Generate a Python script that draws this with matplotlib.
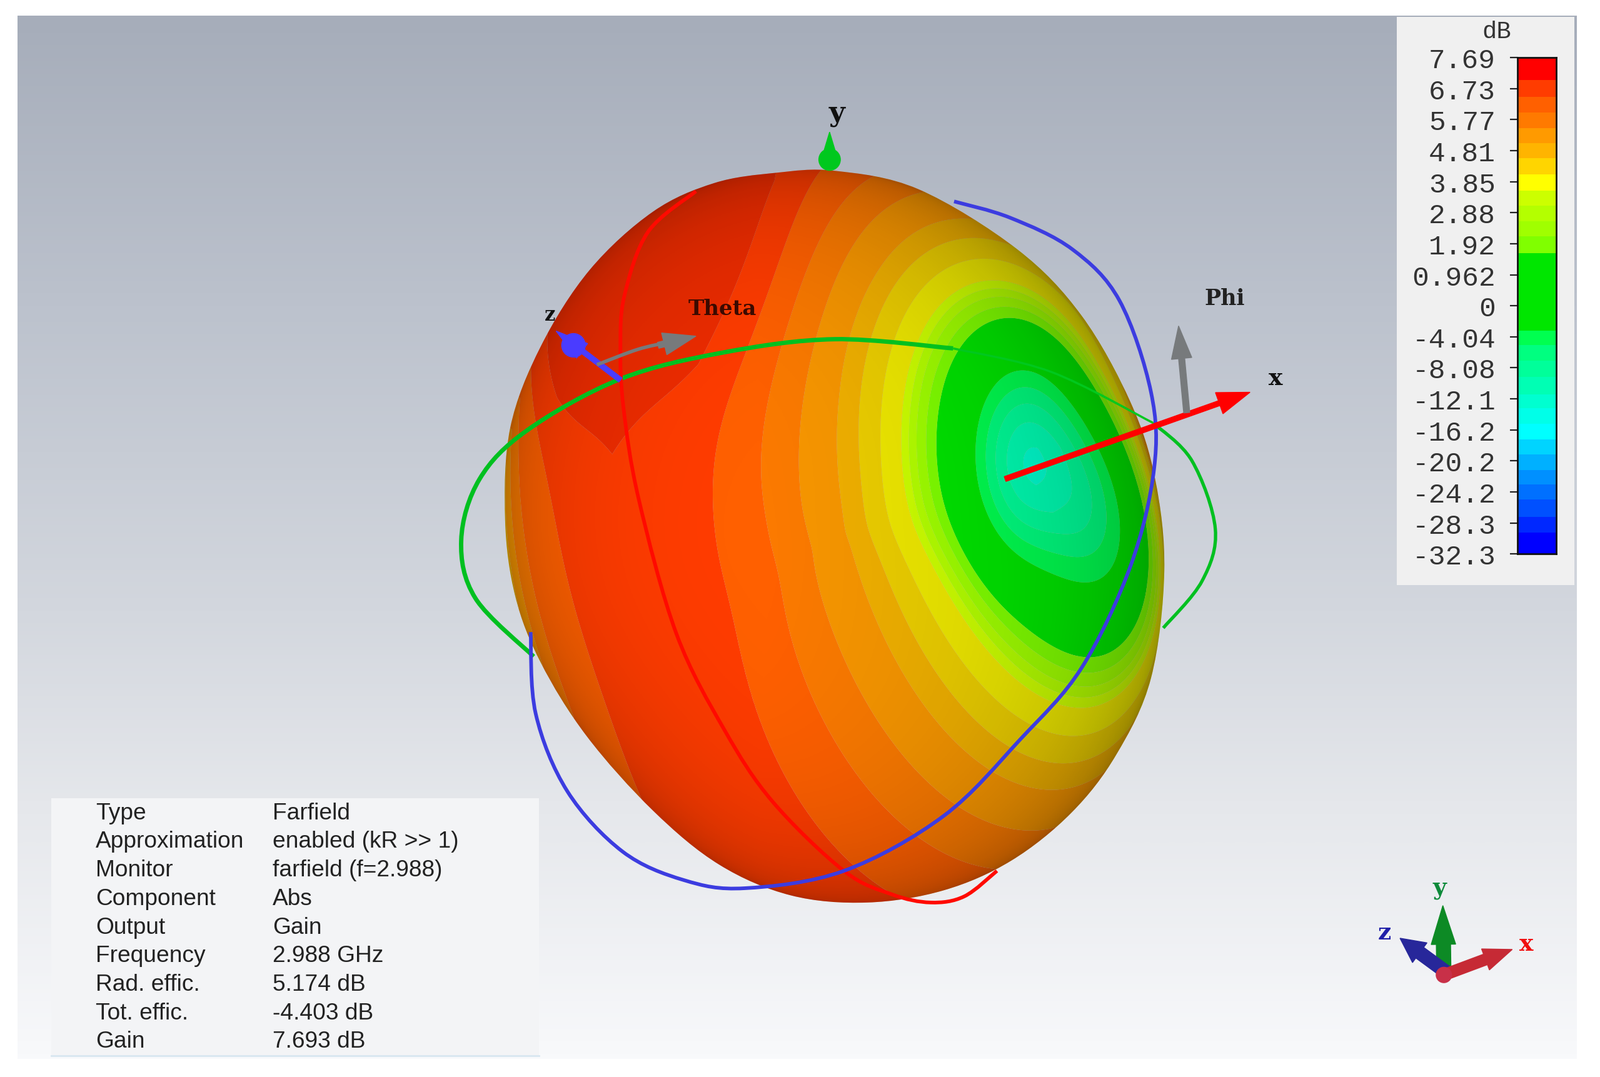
import numpy as np
import matplotlib
matplotlib.use("Agg")
import matplotlib.pyplot as plt
from matplotlib.path import Path
from matplotlib.patches import PathPatch, Polygon, Rectangle, Circle
from matplotlib.colors import ListedColormap, BoundaryNorm, LinearSegmentedColormap

# ---- colour scale -------------------------------------------------------
tick_labels = ["7.69", "6.73", "5.77", "4.81", "3.85", "2.88", "1.92", "0.962", "0",
               "-4.04", "-8.08", "-12.1", "-16.2", "-20.2", "-24.2", "-28.3", "-32.3"]
tick_values = [7.69, 6.73, 5.77, 4.81, 3.85, 2.88, 1.92, 0.962, 0,
               -4.04, -8.08, -12.1, -16.2, -20.2, -24.2, -28.3, -32.3]
band_edges = [0, .73, 1.27, 1.78, 2.27, 2.75, 3.25, 3.76, 4.28, 4.77, 5.28, 5.76, 6.3, 8.8,
              9.27, 9.76, 10.3, 10.85, 11.3, 11.8, 12.3, 12.8, 13.3, 13.75, 14.25, 14.8, 15.3, 16]
band_colors = ["#ff0000", "#ff3c00", "#ff6000", "#ff7a00", "#ff9a00", "#ffb400", "#ffd500",
               "#ffff00", "#ccff00", "#b4ff00", "#a0ff00", "#80ff00", "#00e600", "#00ff50",
               "#00ff80", "#00ff9a", "#00ffb4", "#00ffd0", "#00ffe8", "#00ffff", "#00d4ff",
               "#00b0ff", "#0090ff", "#0070ff", "#0050ff", "#0028ff", "#0000ff"]
ball_colors = ["#ee2c00", "#ff3c00", "#ff6000", "#fb7a00", "#f79600", "#f0b000", "#ecce00",
               "#eee800"] + band_colors[8:]

# ---- gain pattern --------------------------------------------------------
angle_from_x = [0, 6, 10, 14, 25, 29, 32, 36, 40, 43, 50, 57, 67, 85, 100, 115, 125, 135, 180]
gain_at_angle = [-9, -7.5, -5.5, -3.5, 1.63, 2.6, 3.6, 4.1, 4.6, 5.0, 5.5, 5.98, 6.47, 6.8,
                 6.5, 5.95, 5.2, 4.4, 3.0]
lobes = [(650, 200, 85, 128, 1.2), (550, 320, 32, 70, 0.5)]
null_dip = [(1000, 455, 28, 55, -5.0)]

# ---- outlines in picture coordinates --------------------------------------
silhouette = [(818, 168), (900, 186), (997, 245), (1060, 310), (1108, 395), (1132, 470), (1141, 560),
              (1128, 665), (1094, 740), (1050, 797), (991, 844), (925, 873), (850, 885), (775, 878),
              (705, 848), (640, 795), (575, 722), (530, 650), (505, 585), (495, 510), (500, 420),
              (530, 340), (578, 265), (640, 208), (700, 180), (760, 170)]
green_ring_left = [(523, 644), (466, 587), (452, 530), (470, 470), (517, 422), (608, 372),
                   (709, 346), (818, 333), (934, 342)]
green_ring_inner = [(934, 342), (1030, 365), (1130, 415)]
green_ring_right = [(1130, 415), (1168, 452), (1191, 519), (1178, 570), (1140, 616)]
blue_ring = [(520, 620), (525, 700), (556, 776), (610, 835), (670, 863), (730, 871), (827, 854),
             (925, 800), (1000, 725), (1060, 655), (1108, 555), (1131, 460), (1128, 385),
             (1097, 295), (1051, 245), (990, 214), (935, 198)]
red_ring = [(682, 188), (635, 228), (612, 290), (608, 340), (611, 400), (626, 490), (663, 622),
            (710, 716), (757, 786), (827, 854), (874, 877), (912, 885), (945, 879), (977, 854)]
info_names = ["Type", "Approximation", "Monitor", "Component", "Output", "Frequency",
              "Rad. effic.", "Tot. effic.", "Gain"]
info_values = ["Farfield", "enabled (kR >> 1)", "farfield (f=2.988)", "Abs", "Gain",
               "2.988 GHz", "5.174 dB", "-4.403 dB", "7.693 dB"]
bg_rows = [16, 300, 600, 800, 1038]
bg_colors = ["#a6adba", "#bcc2cd", "#d3d7de", "#e6e8ec", "#f8f9fb"]

W, H = 1568, 1056
fig = plt.figure(figsize=(25.59, 17.24), dpi=100)
ax = fig.add_axes([0, 0, 1, 1])
ax.set_xlim(0, W)
ax.set_ylim(H, 0)
ax.axis("off")


def smooth(points, closed=False):
    p = np.asarray(points, float)
    n = len(p)
    verts = [p[0]]
    codes = [Path.MOVETO]
    for i in range(n if closed else n - 1):
        if closed:
            a, b, c, d = p[(i - 1) % n], p[i], p[(i + 1) % n], p[(i + 2) % n]
        else:
            a, b, c, d = p[max(i - 1, 0)], p[i], p[i + 1], p[min(i + 2, n - 1)]
        verts += [b + (c - a) / 6, c - (d - b) / 6, c]
        codes += [Path.CURVE4] * 3
    return Path(np.array(verts), codes)


def arrow(start, tip, shaft, head_len, head_w, color, z=7):
    s, t = np.array(start, float), np.array(tip, float)
    u = (t - s) / np.hypot(*(t - s))
    n = np.array([-u[1], u[0]])
    b = t - u * head_len
    pts = [s + n * shaft / 2, b + n * shaft / 2, b + n * head_w / 2, t,
           b - n * head_w / 2, b - n * shaft / 2, s - n * shaft / 2]
    ax.add_patch(Polygon(pts, closed=True, fc=color, ec=color, lw=1, zorder=z))


# background
grad = LinearSegmentedColormap.from_list(
    "bg", [((r - bg_rows[0]) / (bg_rows[-1] - bg_rows[0]), c) for r, c in zip(bg_rows, bg_colors)])
ax.imshow(np.linspace(0, 1, 512)[:, None], extent=(17, 1545, 1038, 16), cmap=grad,
          aspect="auto", zorder=0, interpolation="bilinear")
ax.set_xlim(0, W)
ax.set_ylim(H, 0)

# ball: a unit sphere fitted to the outline, so the gain rings bend round the edge
outline = smooth(silhouette, closed=True)
poly = outline.to_polygons(closed_only=False)[0]
cx, cy = 815.0, 525.0
phi_o = np.arctan2(poly[:, 1] - cy, poly[:, 0] - cx)
rad_o = np.hypot(poly[:, 0] - cx, poly[:, 1] - cy)
order = np.argsort(phi_o)
phi_u = np.linspace(-np.pi, np.pi, 720, endpoint=False)
rad_u = np.interp(phi_u, phi_o[order], rad_o[order], period=2 * np.pi)
spec = np.fft.rfft(rad_u)
spec[7:] = 0
rad_u = np.fft.irfft(spec, len(rad_u))
gx, gy = np.meshgrid(np.arange(480, 1160, 0.75), np.arange(150, 900, 0.75))
phi = np.arctan2(gy - cy, gx - cx)
rho = np.hypot(gx - cx, gy - cy) / np.interp(phi, phi_u, rad_u, period=2 * np.pi)
rho = np.clip(rho, 0, 1)
X, Y = rho * np.cos(phi), -rho * np.sin(phi)
Z = np.sqrt(np.clip(1 - X ** 2 - Y ** 2, 0, 1))
ax_x, ax_y = 0.70, 0.16
ax_z = np.sqrt(1 - ax_x ** 2 - ax_y ** 2)
alpha0 = np.degrees(np.arccos(np.clip(X * ax_x + Y * ax_y + Z * ax_z, -1, 1)))
# squeeze along the lobe so the rings around the null come out as tall as in the picture
Xw = X + 0.2 * (Y - ax_y) * np.exp(-(alpha0 / 40) ** 2)
Yw = ax_y + (Y - ax_y) * 0.85
Zw = np.sqrt(np.clip(1 - Xw ** 2 - Yw ** 2, 0, 1))
alpha = np.degrees(np.arccos(np.clip(Xw * ax_x + Yw * ax_y + Zw * ax_z, -1, 1)))
gain = np.interp(alpha, angle_from_x, gain_at_angle)
for (lx, ly, sx, sy, amp) in lobes + null_dip:
    gain += amp * np.exp(-0.5 * (((gx - lx) / sx) ** 2 + ((gy - ly) / sy) ** 2))
gain = np.minimum(gain, tick_values[0] - 0.01)

edge_gain = np.interp(band_edges, np.arange(len(tick_values)), tick_values)
levels = edge_gain[::-1]
cmap = ListedColormap(ball_colors[::-1])
norm = BoundaryNorm(levels, cmap.N)
clip = PathPatch(outline, transform=ax.transData, fc="none", ec="none")
ax.add_patch(clip)
cs = ax.contourf(gx, gy, gain, levels=levels, cmap=cmap, norm=norm, zorder=2, antialiased=True)
cs.set_clip_path(clip)
shade = np.zeros(gain.shape + (4,))
shade[..., 3] = 0.30 * (1 - Z) ** 1.5 + 0.10 * np.clip(X + 0.2, 0, 1)
im = ax.imshow(shade, extent=(gx.min(), gx.max(), gy.max(), gy.min()), zorder=3, aspect="auto",
               interpolation="bilinear")
im.set_clip_path(clip)
ax.set_xlim(0, W)
ax.set_ylim(H, 0)

# rings
ax.add_patch(PathPatch(smooth(green_ring_left), fc="none", ec="#00c020", lw=5, zorder=5))
ax.add_patch(PathPatch(smooth(green_ring_inner), fc="none", ec="#00c81e", lw=2.5, zorder=5))
ax.add_patch(PathPatch(smooth(green_ring_right), fc="none", ec="#00c020", lw=3.8, zorder=5))
ax.add_patch(PathPatch(smooth(red_ring), fc="none", ec="#ff0a00", lw=4.2, zorder=5))
ax.add_patch(PathPatch(smooth(blue_ring), fc="none", ec="#3c3ce0", lw=4.2, zorder=6))

# field axes
arrow((985, 470), (1225, 385), 5, 32, 22, "#ff0000")
arrow((608, 373), (545, 325), 5, 32, 18, "#4a3cff")
ax.add_patch(Circle((562, 339), 12, fc="#4a3cff", ec="none", zorder=7))
arrow((813, 160), (813, 130), 2, 30, 18, "#00c81e")
ax.add_patch(Circle((813, 157), 11, fc="#00c81e", ec="none", zorder=7))
arrow((1163, 405), (1155, 320), 6, 32, 20, "#777a7c")
gray_theta = [(585, 358), (625, 343), (655, 336)]
ax.add_patch(PathPatch(smooth(gray_theta), fc="none", ec="#777a7c", lw=4, zorder=7))
arrow((645, 339), (682, 330), 6, 32, 22, "#777a7c")

slab = dict(family="DejaVu Serif", zorder=8, ha="center", va="center", fontweight="bold")
ax.text(820, 111, "y", fontsize=32, color="#111", **slab)
ax.text(539, 309, "z", fontsize=22, color="#111", **slab)
ax.text(708, 303, "Theta", fontsize=24.5, color="#3b0a00", **slab)
ax.text(1200, 293, "Phi", fontsize=25, color="#222", **slab)
ax.text(1250, 371, "x", fontsize=27, color="#111", **slab)

# info panel
ax.add_patch(Rectangle((50, 783), 478, 252, fc="#f3f4f6", ec="none", zorder=4))
ax.plot([50, 528], [1035, 1035], color="#d8e6f0", lw=2, zorder=5)
for i, (name, val) in enumerate(zip(info_names, info_values)):
    y = 797 + 28 * i
    for x, s in ((94, name), (267, val)):
        ax.text(x, y, s, fontsize=26.7, color="#222", va="center", ha="left", zorder=8,
                family="Liberation Sans")

# colour legend
ax.add_patch(Rectangle((1369, 17), 174, 557, fc="#f0f0f0", ec="none", zorder=4))
ax.text(1467, 31, "dB", fontsize=28, color="#333", ha="center", va="center",
        family="Liberation Mono", zorder=8)
cb = fig.add_axes([1487 / W, 1 - 543.5 / H, 38 / W, (543.5 - 57) / H], zorder=5)
cb.barh(np.array(band_edges[:-1]), np.full(len(band_colors), 1.0), height=np.diff(band_edges),
        align="edge", color=band_colors, linewidth=0)
cb.set_xlim(0, 1)
cb.set_ylim(len(tick_labels) - 1, 0)
cb.set_xticks([])
cb.set_yticks(np.arange(len(tick_labels)))
cb.set_yticklabels(tick_labels, family="Liberation Mono", fontsize=32, color="#333")
cb.tick_params(axis="y", length=9, width=1.6, color="#222", pad=16)
for sp in cb.spines.values():
    sp.set_linewidth(2)
    sp.set_color("#111")

# orientation triad
ox, oy = 1415, 955
arrow((ox, oy), (1414, 888), 14, 38, 24, "#0d8a25", z=7)
arrow((ox + 2, oy - 2), (1372, 920), 13, 24, 24, "#27279a", z=8)
arrow((ox, oy + 1), (1482, 931), 11, 28, 22, "#c62a35", z=8)
ax.add_patch(Circle((ox, oy + 1), 8, fc="#c83048", ec="none", zorder=9))
tri = dict(family="DejaVu Serif", fontweight="bold", ha="center", va="center", zorder=9)
ax.text(1411, 870, "y", fontsize=27, color="#0d8a3a", **tri)
ax.text(1357, 914, "z", fontsize=27, color="#2020a8", **tri)
ax.text(1496, 925, "x", fontsize=27, color="#f01010", **tri)

fig.savefig("out.png", dpi=100, facecolor="white")
